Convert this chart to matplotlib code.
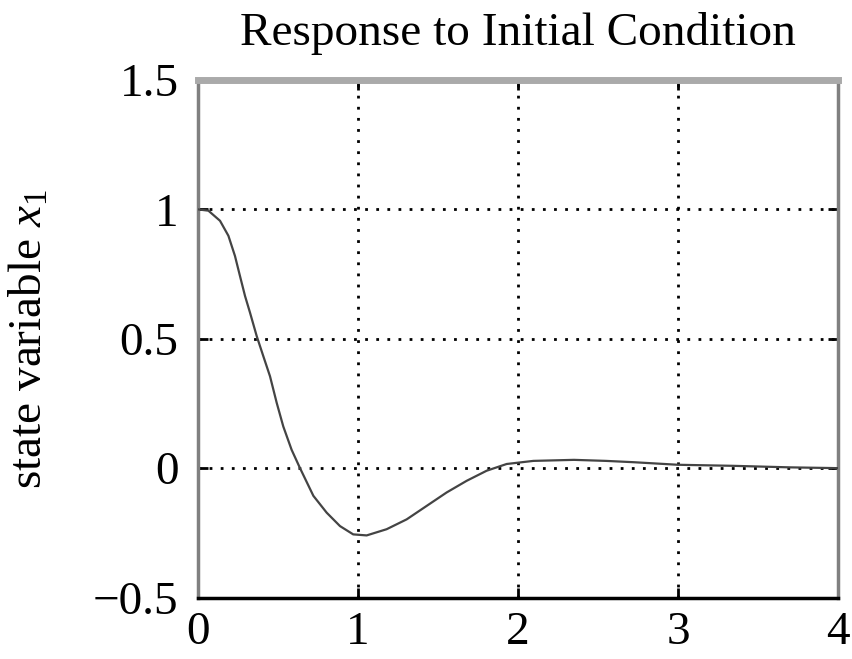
import matplotlib
matplotlib.use("Agg")
from matplotlib import pyplot as plt

# response values
time_s = [0.0, 0.065, 0.1375, 0.19, 0.231, 0.2625, 0.294, 0.325, 0.367, 0.408, 0.45,
          0.492, 0.533, 0.585, 0.6375, 0.721, 0.804, 0.8875, 0.97, 1.054, 1.179, 1.304,
          1.429, 1.554, 1.679, 1.804, 1.929, 2.096, 2.35, 2.55, 2.72, 3.0, 3.34, 3.7, 4.0]
state_x1 = [1.0, 0.995, 0.956, 0.898, 0.820, 0.742, 0.665, 0.601, 0.510, 0.433, 0.355,
            0.252, 0.161, 0.071, 0.0, -0.107, -0.172, -0.224, -0.256, -0.260, -0.236, -0.198,
            -0.146, -0.094, -0.049, -0.010, 0.016, 0.028, 0.032, 0.028, 0.023, 0.013, 0.009, 0.003, 0.0]

x_ticks = [0, 1, 2, 3, 4]
y_ticks = [-0.5, 0, 0.5, 1, 1.5]
y_tick_labels = ["\u22120.5", "0", "0.5", "1", "1.5"]

plt.rcParams["font.family"] = ["Liberation Serif", "DejaVu Serif"]
plt.rcParams["mathtext.fontset"] = "custom"
plt.rcParams["mathtext.rm"] = "Liberation Serif"
plt.rcParams["mathtext.it"] = "Liberation Serif:italic"

fig = plt.figure(figsize=(8.52, 6.59), dpi=100)
ax = fig.add_axes([0.2324, 0.0933, 0.7512, 0.7853])

ax.plot(time_s, state_x1, color="#444444", linewidth=1.6, zorder=3)

ax.set_xlim(0, 4)
ax.set_ylim(-0.5, 1.5)
ax.set_xticks(x_ticks)
ax.set_yticks(y_ticks)
ax.set_yticklabels(y_tick_labels)

ax.grid(True, color="black", linestyle=(0, (1, 3)), linewidth=2, dash_capstyle="butt")
ax.tick_params(direction="in", length=7, width=2, top=True, right=True,
               labelsize=34, color="black")
ax.tick_params(axis="x", pad=10)
ax.tick_params(axis="y", pad=14)

ax.spines["top"].set_color("#aaaaaa")
ax.spines["top"].set_linewidth(5)
ax.spines["left"].set_color("#808080")
ax.spines["left"].set_linewidth(2.5)
ax.spines["right"].set_color("#808080")
ax.spines["right"].set_linewidth(2.5)
ax.spines["bottom"].set_color("black")
ax.spines["bottom"].set_linewidth(2.5)

ax.set_title("Response to Initial Condition", fontsize=34, pad=25)
ax.set_ylabel("state variable $x_1$", fontsize=34, labelpad=30)

fig.savefig("out.png", dpi=100)
